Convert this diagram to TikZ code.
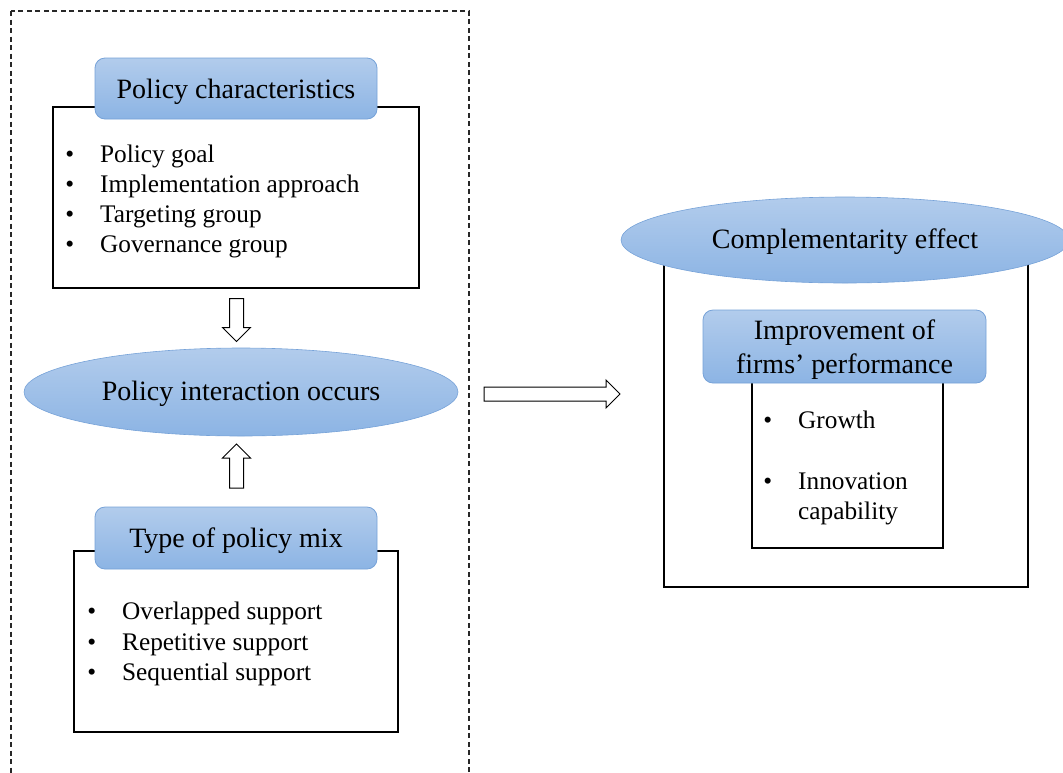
\documentclass[tikz,border=0pt]{standalone}
\usepackage{fontspec}
\setmainfont{Liberation Serif}
\usetikzlibrary{shapes.geometric, shapes.arrows, positioning}
\definecolor{headtop}{RGB}{178,204,236}
\definecolor{headbot}{RGB}{140,180,228}
\definecolor{headline}{RGB}{118,162,216}
\definecolor{dashgray}{RGB}{40,40,40}
\newcommand{\itembul}{\llap{\textbullet\hspace{26pt}}}

\begin{document}
\begin{tikzpicture}[
    x=1pt, y=-1pt,
    header/.style={rectangle, rounded corners=10pt, draw=headline, line width=0.8pt, top color=headtop, bottom color=headbot, font=\fontsize{28}{34}\selectfont, align=center, inner sep=0pt, text depth=0pt},
    oval/.style={ellipse, draw=headline, line width=0.6pt, top color=headtop, bottom color=headbot, font=\fontsize{28}{34}\selectfont, inner sep=0pt, text depth=2.5pt},
    listbox/.style={rectangle, draw=black, line width=1.3pt, fill=white, inner sep=0pt},
    item/.style={anchor=base west, inner sep=0pt, font=\fontsize{25.3}{30}\selectfont},
    hollow/.style={single arrow, draw=black, fill=white, line width=1pt, inner sep=6.5pt, minimum width=27pt, single arrow head extend=7pt}
]

    % Frame
    \clip (0,0) rectangle (1063,772);
    \draw[dashgray, line width=1.4pt, dash pattern=on 5pt off 3.5pt] (11,11) rectangle (469,800);

    % Policy characteristics
    \node (pcbox) [listbox, minimum width=366pt, minimum height=181pt] at (236,197.5) {};
    \node (pchead) [header, minimum width=282pt, minimum height=61pt] at (236,88.5) {Policy characteristics};
    \node (pc1) [item] at (100,162) {\itembul Policy goal};
    \node (pc2) [item] at (100,192) {\itembul Implementation approach};
    \node (pc3) [item] at (100,222) {\itembul Targeting group};
    \node (pc4) [item] at (100,252) {\itembul Governance group};

    % Policy interaction
    \node (inter) [oval, minimum width=434pt, minimum height=88pt] at (241,392) {Policy interaction occurs};

    % Type of policy mix
    \node (mixbox) [listbox, minimum width=324pt, minimum height=181pt] at (236,641.5) {};
    \node (mixhead) [header, minimum width=282pt, minimum height=62pt] at (236,538) {Type of policy mix};
    \node (mix1) [item] at (122,619) {\itembul Overlapped support};
    \node (mix2) [item] at (122,650) {\itembul Repetitive support};
    \node (mix3) [item] at (122,680) {\itembul Sequential support};

    % Block arrows
    \node (downarr) [hollow, minimum height=43pt, shape border rotate=270] at (236.5,316.5) {};
    \node (uparr) [hollow, minimum height=44pt, shape border rotate=90] at (236.5,469.5) {};
    \node (rightarr) [hollow, minimum height=136pt] at (548.5,394) {};

    % Complementarity effect
    \node (compbox) [listbox, minimum width=364pt, minimum height=327pt] at (846,423.5) {};
    \node (comp) [oval, minimum width=448pt, minimum height=86pt] at (845,240) {Complementarity effect};
    \node (perfbox) [listbox, minimum width=191pt, minimum height=178pt] at (847.5,459) {};
    \node (perfhead) [header, minimum width=283pt, minimum height=73pt] at (844.5,346.5) {Improvement of\\firms’ performance};
    \node (perf1) [item] at (798,428) {\itembul Growth};
    \node (perf2) [item] at (798,489) {\itembul Innovation};
    \node (perf3) [item] at (798,519) {capability};

\end{tikzpicture}
\end{document}
